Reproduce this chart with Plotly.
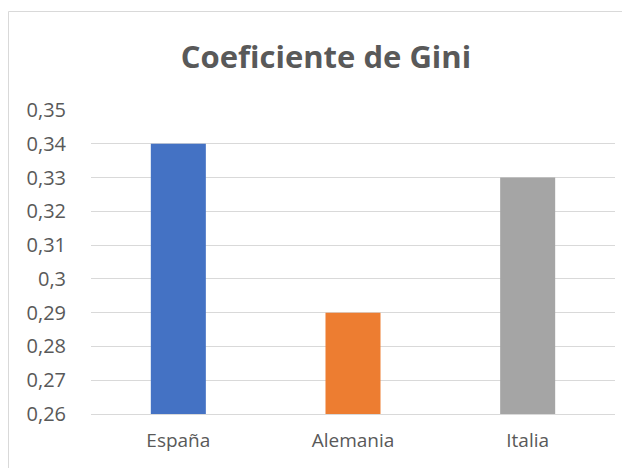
import plotly.graph_objects as go

paises = ["España", "Alemania", "Italia"]
gini = [0.34, 0.29, 0.33]
colores = ["#4472C4", "#ED7D31", "#A5A5A5"]
ticks_y = [0.26, 0.27, 0.28, 0.29, 0.30, 0.31, 0.32, 0.33, 0.34, 0.35]
ticks_y_txt = ["0,26", "0,27", "0,28", "0,29", "0,3", "0,31", "0,32", "0,33", "0,34", "0,35"]

gris = "#595959"
W, H = 630, 468
OFF = 8  # margen por defecto del <body> en la página
# área de trazado medida en pantalla: x 91..615, y 110..414
L, T = 91 - OFF, 110 - OFF
R, B = W - (615 - OFF), H - (414 - OFF)

fig = go.Figure(go.Bar(x=paises, y=gini, marker_color=colores, marker_line_width=0))

# marco del gráfico (borde tipo Excel)
pw, ph = W - L - R, H - T - B
fig.add_shape(type="rect", xref="paper", yref="paper",
              x0=(0.5 - L) / pw, x1=(W + 10 - L) / pw,
              y0=-(H + 10 - (H - B)) / ph, y1=((H - B) - 3.5) / ph,
              line=dict(color="#d9d9d9", width=1), layer="below")

fig.update_layout(
    width=W, height=H, autosize=False,
    margin=dict(l=L, r=R, t=T, b=B),
    paper_bgcolor="white", plot_bgcolor="white",
    bargap=0.685, showlegend=False,
    font=dict(family="Open Sans", color=gris),
    title=dict(text="<b>Coeficiente de Gini</b>", x=(326 - OFF) / W, xanchor="center",
               xref="container", y=1 - (57 - OFF) / H, yanchor="middle",
               font=dict(size=31, color=gris, family="Open Sans")),
)
fig.update_yaxes(range=[0.26, 0.35], tickvals=ticks_y, ticktext=ticks_y_txt,
                 showgrid=True, gridcolor="#d9d9d9", gridwidth=1, zeroline=False,
                 showline=False, ticks="outside", ticklen=20, tickcolor="rgba(0,0,0,0)",
                 tickfont=dict(size=20, color=gris))
fig.update_xaxes(showline=True, linecolor="#d9d9d9", linewidth=1, showgrid=False,
                 ticks="outside", ticklen=9, tickcolor="rgba(0,0,0,0)",
                 tickfont=dict(size=19, color=gris))

fig.write_html("out.html")
